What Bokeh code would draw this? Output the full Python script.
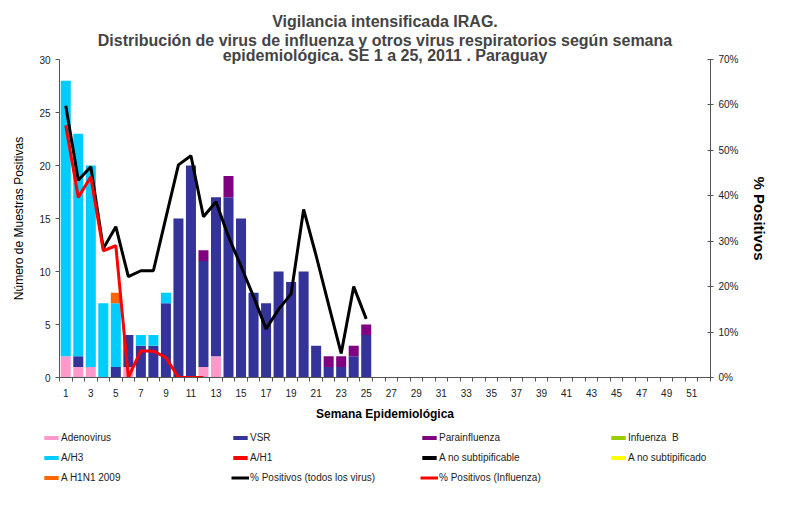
from bokeh.plotting import figure
from bokeh.layouts import column, row
from bokeh.models import (ColumnDataSource, Range1d, LinearAxis, FixedTicker,
                          PrintfTickFormatter, Legend, LegendItem, Title)
from bokeh.embed import file_html
from bokeh.resources import INLINE

# semanas epidemiologicas con datos (SE 1 a 25)
weeks = list(range(1, 26))

adenovirus = [2, 1, 1, 0, 0, 1, 0, 0, 0, 0, 0, 1, 2, 0, 0, 0, 0, 0, 0, 0, 0, 0, 0, 0, 0]
vsr = [0, 1, 0, 0, 1, 3, 3, 3, 7, 15, 20, 10, 15, 17, 15, 8, 7, 10, 9, 10, 3, 1, 1, 2, 4]
parainfluenza = [0, 0, 0, 0, 0, 0, 0, 0, 0, 0, 0, 1, 0, 2, 0, 0, 0, 0, 0, 0, 0, 1, 1, 1, 1]
influenza_b = [0] * 25
a_h3 = [26, 21, 19, 7, 6, 0, 1, 1, 1, 0, 0, 0, 0, 0, 0, 0, 0, 0, 0, 0, 0, 0, 0, 0, 0]
a_h1 = [0] * 25
a_no_subtipificable = [0] * 25
a_no_subtipificado = [0] * 25
a_h1n1_2009 = [0, 0, 0, 0, 1, 0, 0, 0, 0, 0, 0, 0, 0, 0, 0, 0, 0, 0, 0, 0, 0, 0, 0, 0, 0]

# % positivos
pct_todos = [59.8, 43.4, 46.4, 28.4, 33.2, 22.2, 23.5, 23.5, 35.2, 46.8, 48.8, 35.4, 38.7,
             31.0, 24.5, 17.8, 10.7, 15.0, 18.4, 37.0, 26.8, 16.0, 5.3, 20.0, 12.9]
weeks_flu = list(range(1, 13))
pct_influenza = [55.5, 39.6, 44.2, 27.9, 29.0, 0, 5.9, 5.8, 4.4, 0, 0, 0]

series = ["adenovirus", "vsr", "parainfluenza", "influenza_b", "a_h3", "a_h1",
          "a_no_subtipificable", "a_no_subtipificado", "a_h1n1_2009"]
labels = ["Adenovirus", "VSR", "Parainfluenza", "Infuenza  B", "A/H3", "A/H1",
          "A no subtipificable", "A no subtipificado", "A H1N1 2009"]
colors = ["#FF99CC", "#333399", "#800080", "#99CC00", "#00CCFF", "#FF0000",
          "#000000", "#FFFF00", "#FF6600"]
line_labels = ["% Positivos (todos los virus)", "% Positivos (Influenza)"]
line_colors = ["black", "#FF0000"]

title_lines = ["Vigilancia intensificada IRAG.",
               "Distribución de virus de influenza y otros virus respiratorios según semana",
               "epidemiológica. SE 1 a 25, 2011 . Paraguay"]

odd_weeks = list(range(1, 52, 2))
pct_ticks = list(range(0, 71, 10))

source = ColumnDataSource(dict(
    weeks=weeks, adenovirus=adenovirus, vsr=vsr, parainfluenza=parainfluenza,
    influenza_b=influenza_b, a_h3=a_h3, a_h1=a_h1,
    a_no_subtipificable=a_no_subtipificable, a_no_subtipificado=a_no_subtipificado,
    a_h1n1_2009=a_h1n1_2009))

FONT = "Liberation Sans"

p = figure(width=775, height=425, x_range=Range1d(0.5, 52.5), y_range=Range1d(0, 30),
           output_backend="svg", toolbar_location=None, title=None,
           min_border_left=59, min_border_right=65, min_border_bottom=48, min_border_top=59)
# titulo en tres lineas, la ultima queda mas cerca del grafico
for i, line in enumerate(reversed(title_lines)):
    t = Title(text=line, align="center", text_font=FONT, text_font_size="16px",
              text_font_style="bold", standoff=-8 if i == 0 else 0)
    p.add_layout(t, "above")
p.outline_line_color = None
p.grid.visible = False

bars = p.vbar_stack(series, x="weeks", width=0.8, fill_color=colors, line_color=None,
                    source=source)

p.extra_y_ranges = {"pct": Range1d(0, 70)}
p.line(weeks, pct_todos, y_range_name="pct", color=line_colors[0], line_width=3)
p.line(weeks_flu, pct_influenza, y_range_name="pct", color=line_colors[1], line_width=3)

# ejes
xa = p.xaxis[0]
xa.ticker = FixedTicker(ticks=odd_weeks, minor_ticks=[w + 0.5 for w in range(0, 53)])
xa.major_tick_in = 0
xa.major_tick_out = 0
xa.minor_tick_in = 0
xa.minor_tick_out = 4
xa.axis_label = "Semana Epidemiológica"
xa.major_label_standoff = 7

ya = p.yaxis[0]
ya.ticker = FixedTicker(ticks=[0, 5, 10, 15, 20, 25, 30])
ya.major_tick_in = 0
ya.major_tick_out = 4
ya.axis_label = "Número de Muestras Positivas"
ya.axis_label_text_font_style = "normal"
ya.axis_label_text_font_size = "12px"
ya.axis_label_standoff = 10

ra = LinearAxis(y_range_name="pct", ticker=FixedTicker(ticks=pct_ticks),
                formatter=PrintfTickFormatter(format="%d%%"))
ra.major_tick_in = 3
ra.major_tick_out = 3
ra.axis_label = "% Positivos"
ra.axis_label_standoff = 9
p.add_layout(ra, "right")

for ax in [xa, ya, ra]:
    ax.axis_line_color = "#555555"
    ax.major_tick_line_color = "#555555"
    ax.minor_tick_line_color = "#555555" if ax is xa else None
    ax.major_label_text_font = FONT
    ax.major_label_text_font_size = "10px"
    ax.major_label_text_color = "#222222"
    ax.axis_label_text_font = FONT
    ax.axis_label_text_color = "black"
xa.axis_label_text_font_size = "12px"
xa.axis_label_text_font_style = "bold"
xa.axis_label_standoff = 7
ra.axis_label_text_font_size = "15px"
ra.axis_label_text_font_style = "bold"

# leyenda en una figura aparte, debajo del grafico
lg = figure(width=775, height=67, output_backend="svg", toolbar_location=None,
            x_axis_type=None, y_axis_type=None, min_border=0,
            x_range=Range1d(0, 1), y_range=Range1d(0, 1))
lg.outline_line_color = None
lg.grid.visible = False
items = []
for lab, col in zip(labels, colors):
    # barra de altura cero: solo sirve para la muestra de la leyenda
    r = lg.vbar(x=[0], top=[0], width=0.8, fill_color=col, line_color=None)
    items.append(LegendItem(label=lab, renderers=[r]))
for lab, col in zip(line_labels, line_colors):
    r = lg.line(x=[0], y=[0], color=col, line_width=3)
    items.append(LegendItem(label=lab, renderers=[r]))
legend = Legend(items=items, location=(42, 8), orientation="horizontal", ncols=4)
legend.glyph_width = 18
legend.glyph_height = 5
legend.label_standoff = 1
legend.label_width = 163
legend.label_height = 13
legend.spacing = 7
legend.padding = 0
legend.margin = 0
legend.border_line_color = None
legend.background_fill_alpha = 0
legend.label_text_font = FONT
legend.label_text_font_size = "10px"
legend.label_text_color = "#222222"
lg.add_layout(legend, "center")

layout = column(p, row(lg), spacing=0)
open("out.html", "w").write(file_html(layout, INLINE))
